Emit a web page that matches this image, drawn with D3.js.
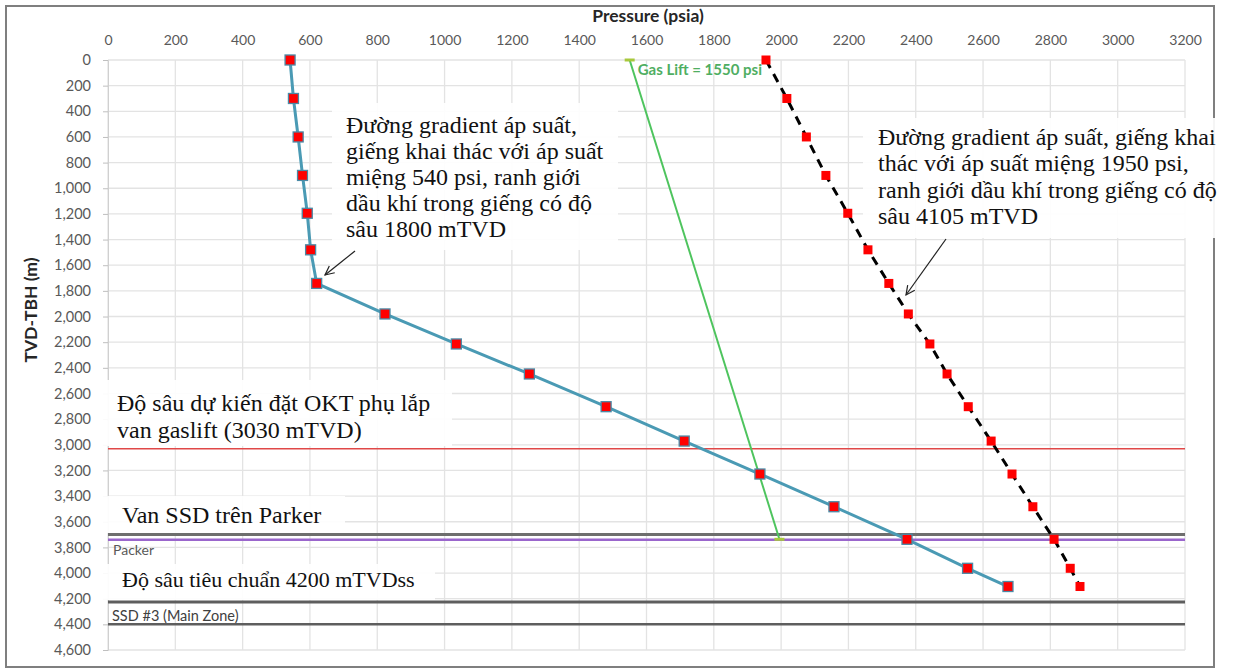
<!DOCTYPE html>
<meta charset="utf-8">
<script src="https://d3js.org/d3.v7.min.js"></script>
<style>
  body { margin: 0; background: #fff; }
  .tick text { font-family: Lato, "Open Sans", sans-serif; }
</style>
<div id="vis"></div>
<script>

// well 1: wellhead 540 psi, oil/gas contact ~1800 mTVD
var depth540 = [0, 300, 600, 900, 1195, 1480, 1742, 1980, 2214, 2448, 2703, 2971, 3228, 3483, 3737, 3963, 4105]
var press540 = [541, 551, 565, 578, 592, 602, 620, 823, 1035, 1252, 1480, 1712, 1937, 2157, 2374, 2554, 2674]

// well 2: wellhead 1950 psi
var depth1950 = [0, 300, 600, 900, 1195, 1480, 1742, 1980, 2214, 2448, 2703, 2971, 3228, 3483, 3737, 3963, 4105]
var press1950 = [1955, 2017, 2075, 2133, 2198, 2258, 2320, 2378, 2442, 2493, 2556, 2624, 2686, 2748, 2811, 2859, 2888]

// gas lift line
var gasDepth = [0, 3737]
var gasPress = [1550, 1995]

// horizontal markers
var refNames = ["OKT", "SSD", "Packer", "TD", "SSD3"]
var refDepths = [3030, 3700, 3740, 4225, 4400]

var xTicks = d3.range(0, 3201, 200)
var yTicks = d3.range(0, 4601, 200)

var width = 1234,
    height = 670

var x = d3.scaleLinear().domain([0, 3200]).range([108, 1185])
var y = d3.scaleLinear().domain([0, 4600]).range([60, 650])

var svg = d3.select("#vis")
  .append("svg")
    .attr("width", width)
    .attr("height", height)

// outer frame
svg.append("rect")
  .attr("x", 6).attr("y", 6)
  .attr("width", 1208).attr("height", 661)
  .attr("fill", "white")
  .attr("stroke", "#7f7f7f")
  .attr("stroke-width", 2)

// grid
svg.append("g")
  .selectAll("line")
  .data(xTicks)
  .join("line")
    .attr("x1", d => x(d)).attr("x2", d => x(d))
    .attr("y1", y(0)).attr("y2", y(4600))
    .attr("stroke", "#e3e3e3")
    .attr("stroke-width", 1.3)

svg.append("g")
  .selectAll("line")
  .data(yTicks)
  .join("line")
    .attr("x1", x(0)).attr("x2", x(3200))
    .attr("y1", d => y(d)).attr("y2", d => y(d))
    .attr("stroke", "#e3e3e3")
    .attr("stroke-width", 1.3)

// axes
var xAxis = svg.append("g")
  .attr("transform", "translate(0," + y(0) + ")")
  .call(d3.axisTop(x).tickValues(xTicks).tickSize(0).tickPadding(15).tickFormat(d3.format("d")))
xAxis.select(".domain").remove()
xAxis.selectAll("text").attr("font-size", 14).attr("fill", "#595959")

var yAxis = svg.append("g")
  .attr("transform", "translate(" + x(0) + ",0)")
  .call(d3.axisLeft(y).tickValues(yTicks).tickSize(5).tickPadding(12).tickFormat(d3.format(",")))
yAxis.select(".domain").attr("stroke", "#d0d0d0")
yAxis.selectAll(".tick line").attr("stroke", "#bfbfbf")
yAxis.selectAll("text").attr("font-size", 14.5).attr("fill", "#595959")

svg.append("text")
  .attr("x", 648).attr("y", 22)
  .attr("text-anchor", "middle")
  .attr("font-family", "Lato, sans-serif")
  .attr("font-weight", "bold")
  .attr("font-size", 17.5)
  .attr("fill", "#262626")
  .text("Pressure (psia)")

svg.append("text")
  .attr("transform", "translate(37,310) rotate(-90)")
  .attr("text-anchor", "middle")
  .attr("font-family", "Lato, sans-serif")
  .attr("font-weight", "bold")
  .attr("font-size", 17.5)
  .attr("fill", "#262626")
  .text("TVD-TBH (m)")

// reference lines
var refColor = d3.scaleOrdinal()
  .domain(refNames)
  .range(["#e04848", "#6e6e6e", "#9a66cc", "#5e5e5e", "#5e5e5e"])
var refWidth = d3.scaleOrdinal()
  .domain(refNames)
  .range([1.5, 3, 2.5, 3, 2.5])

svg.append("g")
  .selectAll("line")
  .data(refNames)
  .join("line")
    .attr("x1", x(0)).attr("x2", x(3200))
    .attr("y1", (d, i) => y(refDepths[i])).attr("y2", (d, i) => y(refDepths[i]))
    .attr("stroke", d => refColor(d))
    .attr("stroke-width", d => refWidth(d))

svg.append("text")
  .attr("x", 113).attr("y", y(refDepths[2]) + 15)
  .attr("font-family", "Lato, sans-serif").attr("font-size", 14)
  .attr("fill", "#595959")
  .text("Packer")

svg.append("text")
  .attr("x", 112).attr("y", y(refDepths[3]) + 19)
  .attr("font-family", "Lato, sans-serif").attr("font-size", 14.5)
  .attr("fill", "#404040")
  .text("SSD #3 (Main Zone)")

// gas lift
var gas = d3.zip(gasPress, gasDepth)
svg.append("path")
  .datum(gas)
  .attr("d", d3.line().x(d => x(d[0])).y(d => y(d[1])))
  .attr("fill", "none")
  .attr("stroke", "#4ec45e")
  .attr("stroke-width", 2)

svg.append("g")
  .selectAll("line")
  .data(gas)
  .join("line")
    .attr("x1", d => x(d[0]) - 5).attr("x2", d => x(d[0]) + 5)
    .attr("y1", d => y(d[1])).attr("y2", d => y(d[1]))
    .attr("stroke", "#a8c83c")
    .attr("stroke-width", 3)

svg.append("text")
  .attr("x", x(gasPress[0]) + 8).attr("y", y(0) + 15)
  .attr("font-family", "Lato, sans-serif")
  .attr("font-weight", "bold")
  .attr("font-size", 15)
  .attr("fill", "#4fae62")
  .text("Gas Lift = 1550 psi")

// well 1950 psi - dashed
var w2 = d3.zip(press1950, depth1950)
svg.append("path")
  .datum(w2)
  .attr("d", d3.line().x(d => x(d[0])).y(d => y(d[1])))
  .attr("fill", "none")
  .attr("stroke", "black")
  .attr("stroke-width", 3)
  .attr("stroke-dasharray", "9,7")

svg.append("g")
  .selectAll("rect")
  .data(w2)
  .join("rect")
    .attr("x", d => x(d[0]) - 4.5)
    .attr("y", d => y(d[1]) - 4.5)
    .attr("width", 9).attr("height", 9)
    .attr("fill", "#ff0000")

// well 540 psi
var w1 = d3.zip(press540, depth540)
svg.append("path")
  .datum(w1)
  .attr("d", d3.line().x(d => x(d[0])).y(d => y(d[1])))
  .attr("fill", "none")
  .attr("stroke", "#4a9ab4")
  .attr("stroke-width", 3)

svg.append("g")
  .selectAll("rect")
  .data(w1)
  .join("rect")
    .attr("x", d => x(d[0]) - 5)
    .attr("y", d => y(d[1]) - 5)
    .attr("width", 10).attr("height", 10)
    .attr("fill", "#ff0000")
    .attr("stroke", "#4a8aa6")
    .attr("stroke-width", 1.3)

// text boxes
function textBox(x0, y0, w, h, lines, tx, ty, lh, fs) {
  svg.append("rect")
    .attr("x", x0).attr("y", y0)
    .attr("width", w).attr("height", h)
    .attr("fill", "white")
    .attr("fill-opacity", 0.92)
  var t = svg.append("text")
    .attr("font-family", "Liberation Serif, serif")
    .attr("font-size", fs || 24)
    .attr("fill", "#111")
  lines.forEach(function(l, i) {
    t.append("tspan").attr("x", tx).attr("y", ty + i * lh).text(l)
  })
}

textBox(100, 380, 352, 66,
  ["Độ sâu dự kiến đặt OKT phụ lắp", "van gaslift (3030 mTVD)"], 117, 411, 27)
textBox(100, 496, 245, 37, ["Van SSD trên Parker"], 122, 523, 27)
textBox(100, 564, 335, 36, ["Độ sâu tiêu chuẩn 4200 mTVDss"], 122, 587, 27, 22)
textBox(332, 103, 286, 147,
  ["Đường gradient áp suất,", "giếng khai thác với áp suất", "miệng 540 psi, ranh giới",
   "dầu khí trong giếng có độ", "sâu 1800 mTVD"], 346, 133, 26)
textBox(863, 118, 370, 120,
  ["Đường gradient áp suất, giếng khai", "thác với áp suất miệng 1950 psi,",
   "ranh giới dầu khí trong giếng có độ", "sâu 4105 mTVD"], 878, 145, 26.3)

// arrows
function arrow(x1, y1, x2, y2) {
  var a = Math.atan2(y2 - y1, x2 - x1), L = 10, s = 0.45
  svg.append("line")
    .attr("x1", x1).attr("y1", y1).attr("x2", x2).attr("y2", y2)
    .attr("stroke", "#222").attr("stroke-width", 1.2)
  svg.append("path")
    .attr("d", "M" + (x2 - L * Math.cos(a - s)) + "," + (y2 - L * Math.sin(a - s)) +
      "L" + x2 + "," + y2 +
      "L" + (x2 - L * Math.cos(a + s)) + "," + (y2 - L * Math.sin(a + s)))
    .attr("fill", "none").attr("stroke", "#222").attr("stroke-width", 1.2)
}
arrow(355, 251, 325, 275)
arrow(946, 239, 906, 295)

</script>
